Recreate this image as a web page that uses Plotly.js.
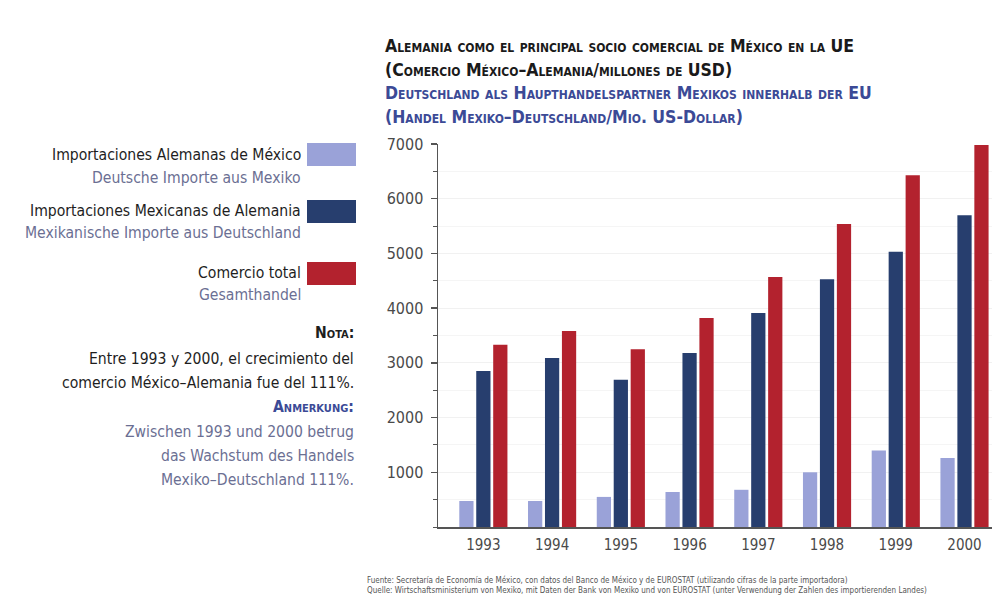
<!DOCTYPE html>
<html>
<head>
<meta charset="utf-8">
<script src="https://cdn.plot.ly/plotly-3.0.1.min.js"></script>
<style>html,body{margin:0;padding:0;background:#fff;}#chart{width:997px;height:598px;}</style>
</head>
<body>
<div id="chart"></div>
<script>
// ---- data ----
const years = ["1993", "1994", "1995", "1996", "1997", "1998", "1999", "2000"];
const importsGermanyFromMexico = [475, 475, 550, 640, 680, 1000, 1400, 1260];
const importsMexicoFromGermany = [2850, 3090, 2690, 3180, 3910, 4530, 5030, 5700];
const totalTrade = [3330, 3580, 3250, 3820, 4570, 5540, 6430, 6980];
const seriesES = ["Importaciones Alemanas de México", "Importaciones Mexicanas de Alemania", "Comercio total"];
const seriesDE = ["Deutsche Importe aus Mexiko", "Mexikanische Importe aus Deutschland", "Gesamthandel"];
const yTicks = [1000, 2000, 3000, 4000, 5000, 6000, 7000];
const titleLines = [
  "Alemania como el principal socio comercial de México en la UE",
  "(Comercio México–Alemania/millones de USD)",
  "Deutschland als Haupthandelspartner Mexikos innerhalb der EU",
  "(Handel Mexiko–Deutschland/Mio. US-Dollar)"
];
const noteLines = [
  "Nota:",
  "Entre 1993 y 2000, el crecimiento del",
  "comercio México–Alemania fue del 111%.",
  "Anmerkung:",
  "Zwischen 1993 und 2000 betrug",
  "das Wachstum des Handels",
  "Mexiko–Deutschland 111%."
];
const sourceLines = [
  "Fuente: Secretaría de Economía de México, con datos del Banco de México y de EUROSTAT (utilizando cifras de la parte importadora)",
  "Quelle: Wirtschaftsministerium von Mexiko, mit Daten der Bank von Mexiko und von EUROSTAT (unter Verwendung der Zahlen des importierenden Landes)"
];

// ---- styles ----
const colors = ["#9aa2d8", "#273e6e", "#b3222e"];
const blueText = "#3b4a96";
const greyBlue = "#6b6f93";
const FONT = "DejaVu Sans Condensed, Liberation Sans, sans-serif";

const W = 997, H = 598;
const L = 438, R = 5, T = 144, B = 71;
const pw = W - L - R, ph = H - T - B;
const px = x => (x - L) / pw;
const py = y => (H - B - y) / ph;

const seriesValues = [importsGermanyFromMexico, importsMexicoFromGermany, totalTrade];
const traces = seriesValues.map((v, i) => ({
  type: "bar", x: years, y: v, name: seriesES[i],
  marker: {color: colors[i], line: {width: 0}},
  hoverinfo: "x+y"
}));

const annotations = [];
const shapes = [];

// title
const titleY = [46, 70, 93, 117];
titleLines.forEach((t, i) => {
  annotations.push({
    xref: "paper", yref: "paper", x: px(383), y: py(titleY[i]),
    xanchor: "left", yanchor: "middle", showarrow: false, text: "<b>" + t + "</b>",
    font: {family: FONT, size: 17.5, color: i < 2 ? "#1a1a1a" : blueText, variant: "small-caps"}
  });
});

// legend
const legY = [[155, 178], [211, 233], [273, 295]];
const boxY = [[143, 166], [200, 223], [262, 285]];
const TEXT_SIZE = 15.6;
seriesES.forEach((s, i) => {
  annotations.push({
    xref: "paper", yref: "paper", x: px(303), y: py(legY[i][0]), xanchor: "right", yanchor: "middle",
    showarrow: false, text: s, font: {family: FONT, size: TEXT_SIZE, color: "#1e1e1e"}
  });
  annotations.push({
    xref: "paper", yref: "paper", x: px(303), y: py(legY[i][1]), xanchor: "right", yanchor: "middle",
    showarrow: false, text: seriesDE[i], font: {family: FONT, size: TEXT_SIZE, color: greyBlue}
  });
  shapes.push({
    type: "rect", xref: "paper", yref: "paper",
    x0: px(307), x1: px(356), y0: py(boxY[i][1]), y1: py(boxY[i][0]),
    fillcolor: colors[i], line: {width: 0}
  });
});

// note
const noteY = [333, 359, 383, 407, 432, 456, 480];
noteLines.forEach((t, i) => {
  let col = i < 3 ? "#1e1e1e" : greyBlue;
  let txt = t, variant = "normal";
  if (i === 0) { txt = "<b>" + t + "</b>"; variant = "small-caps"; col = "#1e1e1e"; }
  if (i === 3) { txt = "<b>" + t + "</b>"; variant = "small-caps"; col = blueText; }
  annotations.push({
    xref: "paper", yref: "paper", x: px(356), y: py(noteY[i]), xanchor: "right", yanchor: "middle",
    showarrow: false, text: txt, font: {family: FONT, size: TEXT_SIZE, color: col, variant: variant}
  });
});

// source
[580, 590].forEach((y, i) => {
  annotations.push({
    xref: "paper", yref: "paper", x: px(365), y: py(y), xanchor: "left", yanchor: "middle",
    showarrow: false, text: sourceLines[i], font: {family: FONT, size: 8, color: "#555"}
  });
});

const layout = {
  width: W, height: H,
  margin: {l: L, r: R, t: T, b: B, pad: 0},
  paper_bgcolor: "#ffffff", plot_bgcolor: "#ffffff",
  showlegend: false,
  barmode: "group", bargap: 0.26, bargroupgap: 0.16,
  font: {family: FONT, color: "#444"},
  xaxis: {
    type: "category", range: [-0.66, 7.4],
    showline: true, linecolor: "#555", linewidth: 1.5,
    ticks: "", showgrid: false, zeroline: false,
    tickfont: {family: FONT, size: 15, color: "#4a4a4a"}, ticklabelstandoff: 3
  },
  yaxis: {
    range: [0, 7000], tickvals: yTicks, ticktext: yTicks.map(String),
    showline: true, linecolor: "#555", linewidth: 1.5,
    ticks: "outside", ticklen: 6, tickcolor: "#555", tickwidth: 1.5,
    showgrid: true, gridcolor: "#f1f1f1", zeroline: false,
    minor: {dtick: 500, tick0: 500, ticks: "outside", ticklen: 4, tickcolor: "#555", tickwidth: 1, showgrid: true, gridcolor: "#f5f5f5"},
    tickfont: {family: FONT, size: 16, color: "#4a4a4a"}, ticklabelstandoff: 4
  },
  annotations: annotations,
  shapes: shapes
};

Plotly.newPlot("chart", traces, layout, {displayModeBar: false, staticPlot: true});
</script>
</body>
</html>
